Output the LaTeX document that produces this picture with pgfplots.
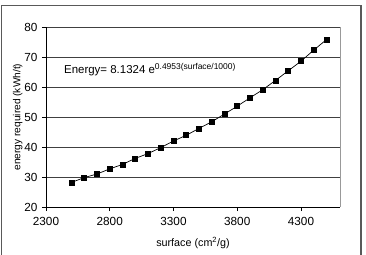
\documentclass[border=0pt]{standalone}
\usepackage{pgfplots}
\pgfplotsset{compat=1.18}
\usepackage{fontspec}
\setmainfont{Liberation Sans}

\begin{document}
\begin{tikzpicture}[x=1bp,y=1bp]
\useasboundingbox (0,0) rectangle (366,255);
% chart frame (open at the bottom edge)
\draw[black!65, line width=1.2bp] (1.5,0) -- (1.5,249.5) -- (361,249.5) -- (361,0);
\begin{axis}[
  at={(46bp,48bp)}, anchor=south west,
  scale only axis,
  width=294bp, height=180bp,
  xmin=2300, xmax=4606,
  ymin=20, ymax=80,
  xtick={2300,2800,3300,3800,4300},
  ytick={20,30,40,50,60,70,80},
  axis x line*=bottom, axis y line*=left,
  axis line style={black, line width=0.8bp, -},
  tick align=outside,
  major tick length=4bp,
  tick style={black, line width=0.8bp},
  ymajorgrids,
  major grid style={black!75, line width=0.7bp},
  tick label style={font=\fontsize{11.8}{13}\selectfont},
  /pgf/number format/assume math mode=true,
  /pgf/number format/set thousands separator={},
  xticklabel style={yshift=-3bp},
  yticklabel style={xshift=-1bp},
  xlabel={surface (cm\textsuperscript{2}/g)},
  ylabel={energy required (kWh/t)},
  xlabel style={font=\fontsize{10.8}{12}\selectfont, yshift=-5bp},
  ylabel style={font=\fontsize{10.2}{12}\selectfont, yshift=-5bp},
  clip=false,
]
\addplot[black, line width=0.7bp, mark=square*, mark size=2.5bp,
  mark options={solid, fill=black}] coordinates {
  (2500,28.2) (2600,29.8) (2700,31.0) (2800,32.7) (2900,34.2)
  (3000,36.2) (3100,37.8) (3200,39.8) (3300,42.0) (3400,43.9)
  (3500,46.2) (3600,48.4) (3700,51.0) (3800,53.6) (3900,56.4)
  (4000,59.1) (4100,62.2) (4200,65.4) (4300,68.6) (4400,72.3)
  (4500,75.8)
};
% plot area border on the right
\draw[black!40, line width=0.8bp] (axis cs:4606,20) -- (axis cs:4606,80);
\node[anchor=base west, inner sep=0pt, font=\fontsize{11.5}{13}\selectfont]
  at (axis cs:2441,64.4)
  {Energy= 8.1324 e\textsuperscript{\fontsize{8.5}{10}\selectfont 0.4953(surface/1000)}};
\end{axis}
\end{tikzpicture}
\end{document}
